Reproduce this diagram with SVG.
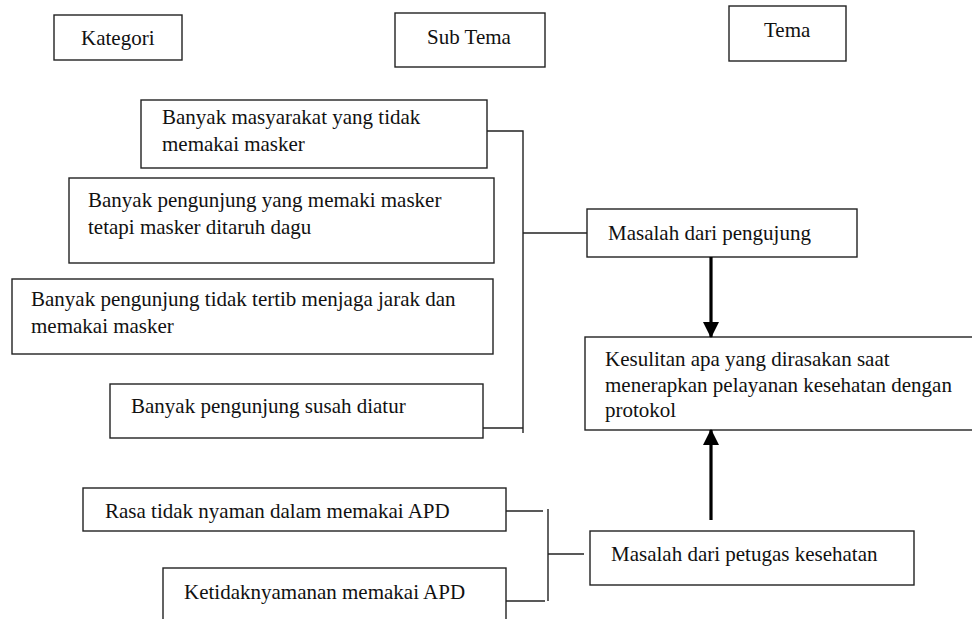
<svg xmlns="http://www.w3.org/2000/svg" width="972" height="619" viewBox="0 0 972 619">
  <style>
    .box { fill: #ffffff; stroke: #222222; stroke-width: 1.4; }
    .txt { font-family: 'Liberation Serif', 'Times New Roman', serif; font-size: 21px; fill: #111111; }
    .conn { fill: none; stroke: #222222; stroke-width: 1.4; }
    .arrow { fill: none; stroke: #000000; stroke-width: 3.2; }
  </style>
  <defs>
    <marker id="head" viewBox="0 0 16 16" refX="15" refY="8" markerWidth="16" markerHeight="16" markerUnits="userSpaceOnUse" orient="auto">
      <path d="M0,0 L16,8 L0,16 Z" fill="#000000"/>
    </marker>
  </defs>

  <rect width="972" height="619" fill="#ffffff"/>

  <!-- column headers -->
  <g id="hdr-kategori">
    <rect class="box" x="54" y="15" width="128" height="45"/>
    <text class="txt" x="81" y="45">Kategori</text>
  </g>
  <g id="hdr-subtema">
    <rect class="box" x="395" y="13" width="150" height="54"/>
    <text class="txt" x="427" y="44">Sub Tema</text>
  </g>
  <g id="hdr-tema">
    <rect class="box" x="729" y="6" width="117" height="55"/>
    <text class="txt" x="764" y="37">Tema</text>
  </g>

  <!-- categories: visitors -->
  <g id="kat-masyarakat">
    <rect class="box" x="141" y="100" width="346" height="68"/>
    <text class="txt" x="162" y="124">Banyak masyarakat yang tidak</text>
    <text class="txt" x="162" y="151">memakai masker</text>
  </g>
  <g id="kat-dagu">
    <rect class="box" x="69" y="178" width="425" height="85"/>
    <text class="txt" x="88" y="207">Banyak pengunjung yang memaki masker</text>
    <text class="txt" x="88" y="234">tetapi masker ditaruh dagu</text>
  </g>
  <g id="kat-jarak">
    <rect class="box" x="12" y="279" width="481" height="75"/>
    <text class="txt" x="31" y="306">Banyak pengunjung tidak tertib menjaga jarak dan</text>
    <text class="txt" x="31" y="333">memakai masker</text>
  </g>
  <g id="kat-susah">
    <rect class="box" x="110" y="384" width="373" height="54"/>
    <text class="txt" x="131" y="413">Banyak pengunjung susah diatur</text>
  </g>

  <!-- categories: health workers -->
  <g id="kat-rasa">
    <rect class="box" x="83" y="488" width="423" height="43"/>
    <text class="txt" x="105" y="518">Rasa tidak nyaman dalam memakai APD</text>
  </g>
  <g id="kat-keti">
    <rect class="box" x="163" y="568" width="343" height="60"/>
    <text class="txt" x="184" y="599">Ketidaknyamanan memakai APD</text>
  </g>

  <!-- sub themes -->
  <g id="sub-pengunjung">
    <rect class="box" x="587" y="209" width="270" height="48"/>
    <text class="txt" x="608" y="240">Masalah dari pengujung</text>
  </g>
  <g id="sub-petugas">
    <rect class="box" x="590" y="531" width="324" height="54"/>
    <text class="txt" x="611" y="561">Masalah dari petugas kesehatan</text>
  </g>

  <!-- theme (box runs past the right page edge) -->
  <g id="tema-kesulitan">
    <rect class="box" x="585" y="337" width="400" height="93"/>
    <text class="txt" x="605" y="366">Kesulitan apa yang dirasakan saat</text>
    <text class="txt" x="605" y="392">menerapkan pelayanan kesehatan dengan</text>
    <text class="txt" x="605" y="417">protokol</text>
  </g>

  <!-- connectors -->
  <g id="connectors">
    <!-- visitor bracket -->
    <path class="conn" d="M487,131 H523 V433"/>
    <path class="conn" d="M483,428 H523"/>
    <path class="conn" d="M523,233 H587"/>
    <!-- health worker bracket -->
    <path class="conn" d="M506,511 H543"/>
    <path class="conn" d="M506,601 H545"/>
    <path class="conn" d="M548,509 V601"/>
    <path class="conn" d="M548,554 H584"/>
    <!-- arrows into the theme -->
    <line class="arrow" x1="711" y1="257" x2="711" y2="337" marker-end="url(#head)"/>
    <line class="arrow" x1="711" y1="520" x2="711" y2="430" marker-end="url(#head)"/>
  </g>
</svg>
